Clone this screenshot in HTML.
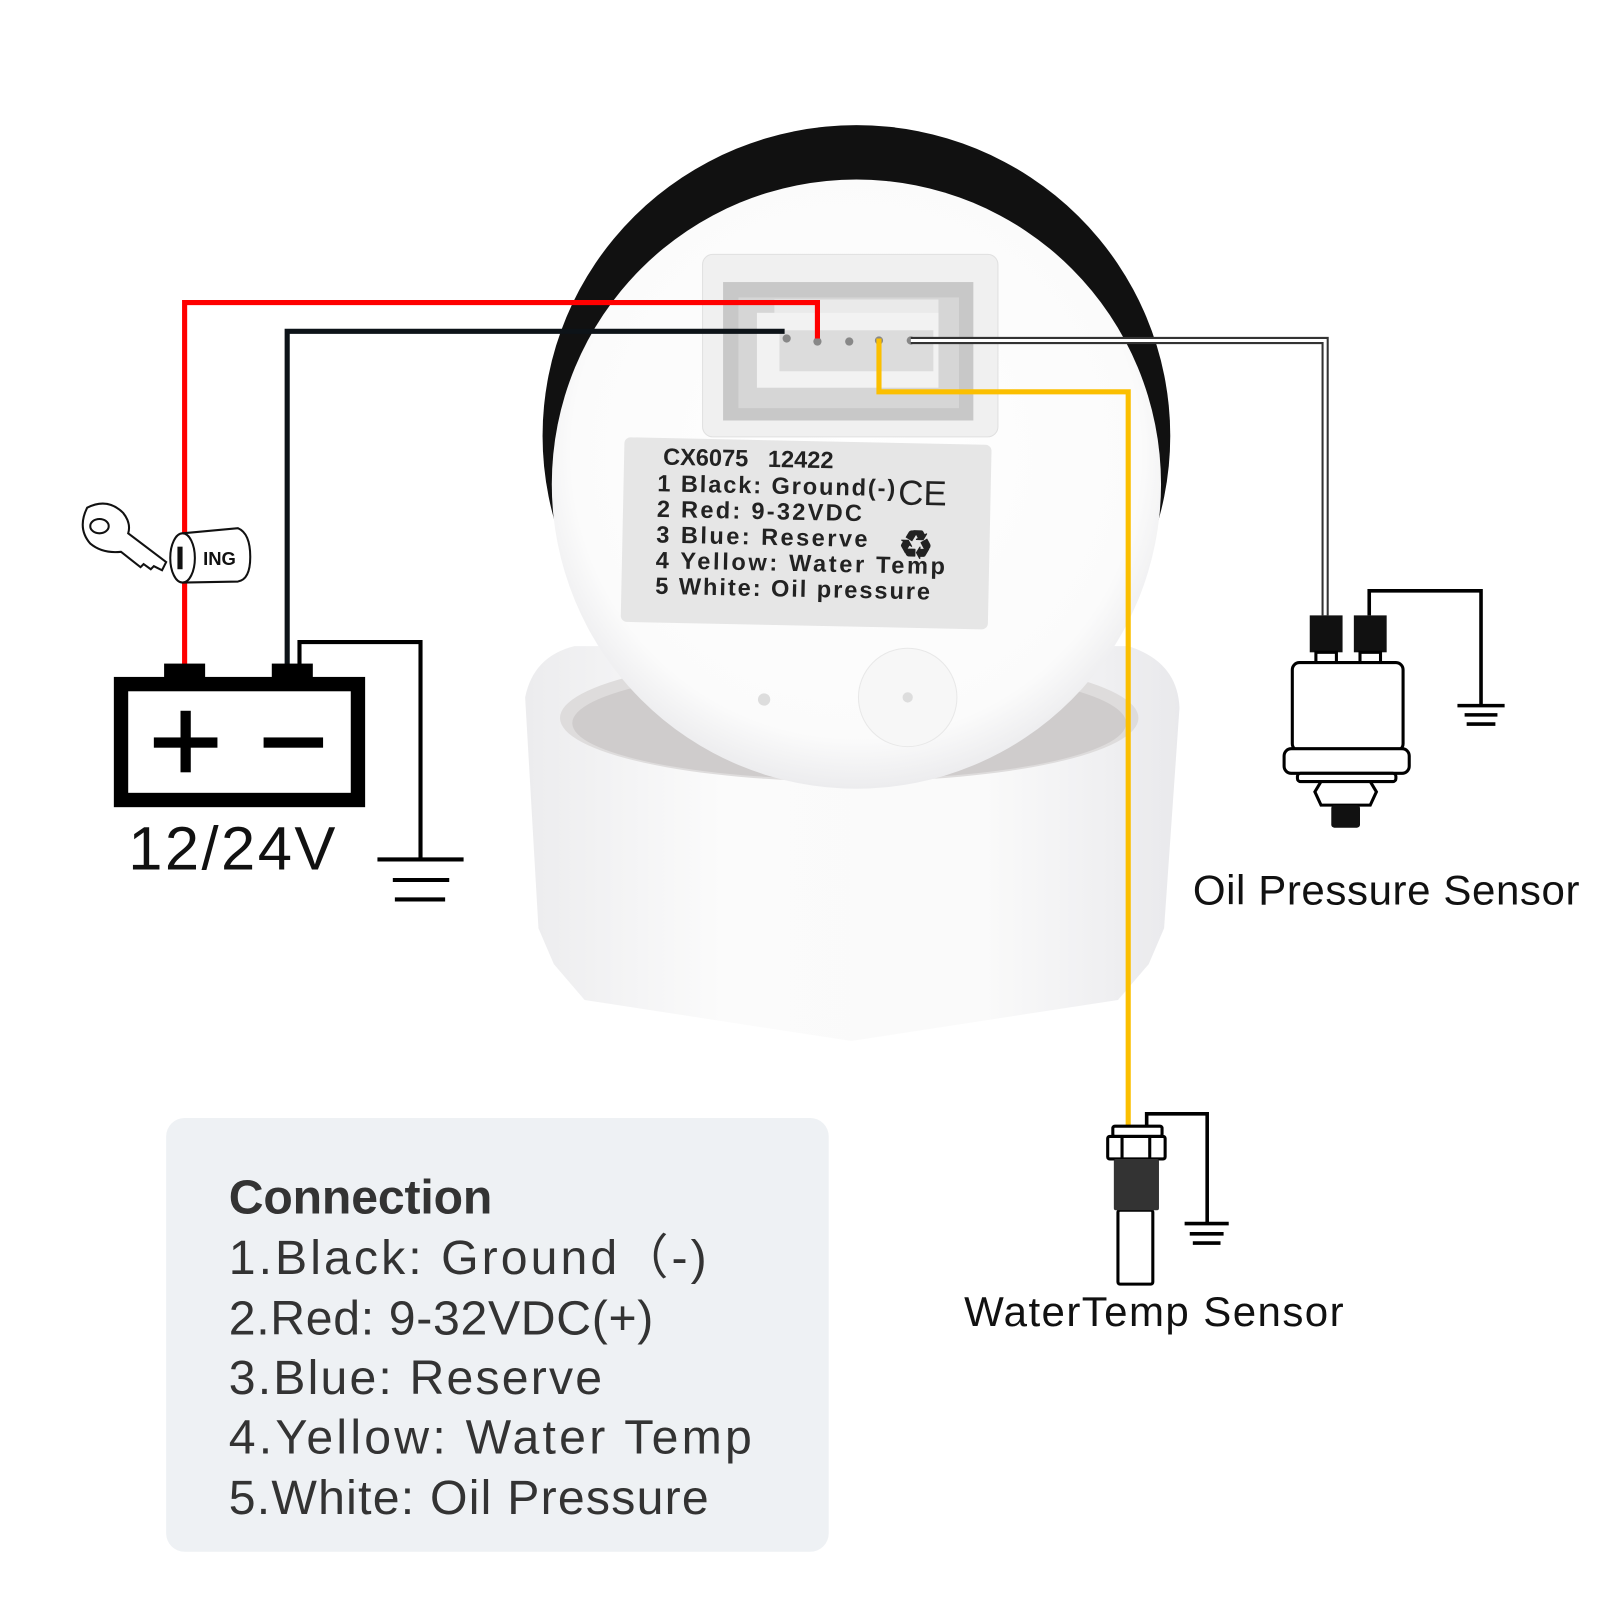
<!DOCTYPE html>
<html><head><meta charset="utf-8"><style>
html,body{margin:0;padding:0;background:#fff;}
svg{display:block;}
</style></head><body>
<svg width="1600" height="1600" viewBox="0 0 1560 1560" xmlns="http://www.w3.org/2000/svg" font-family="Liberation Sans, sans-serif">
<defs>
<linearGradient id="base" x1="0" x2="1" y1="0" y2="0">
<stop offset="0" stop-color="#ececee"/><stop offset="0.3" stop-color="#fbfbfb"/><stop offset="0.7" stop-color="#fafafa"/><stop offset="1" stop-color="#e9e9ec"/>
</linearGradient>
<radialGradient id="face" cx="0.5" cy="0.45" r="0.55">
<stop offset="0" stop-color="#ffffff"/><stop offset="0.85" stop-color="#fbfbfb"/><stop offset="1" stop-color="#ececee"/>
</radialGradient>
</defs>
<!-- base cylinder -->
<path d="M512 680 Q520 640 560 630 L1100 630 Q1148 645 1150 690 L1135 905 L1120 940 L1090 975 L830 1015 L570 975 L540 940 L525 905 Z" fill="url(#base)"/>
<ellipse cx="828" cy="700" rx="282" ry="62" fill="#dedcdc"/>
<ellipse cx="828" cy="705" rx="270" ry="55" fill="#cfcccc"/>
<!-- black ring -->
<ellipse cx="835" cy="425" rx="306" ry="303" fill="#111"/>
<circle cx="835" cy="472" r="297" fill="url(#face)"/>
<!-- connector housing -->
<rect x="685" y="248" width="288" height="178" rx="10" fill="#f0f0f0" stroke="#e0e0e0"/>
<rect x="705" y="275" width="244" height="135" fill="#c8c8c8"/>
<rect x="720" y="290" width="215" height="108" fill="#d6d6d6"/>
<rect x="755" y="292" width="160" height="30" fill="#eaeaea"/>
<rect x="738" y="305" width="177" height="73" fill="#f2f2f2"/>
<rect x="760" y="322" width="150" height="40" fill="#dcdcdc"/>
<g fill="#888"><circle cx="767" cy="330" r="4"/><circle cx="797" cy="333" r="4"/><circle cx="828" cy="333" r="4"/><circle cx="857" cy="332" r="4"/><circle cx="888" cy="332" r="4"/></g>
<!-- label -->
<g transform="rotate(1.2 786 520)">
<rect x="607" y="430" width="358" height="180" rx="6" fill="#e6e6e6"/>
<g font-size="23" fill="#222" font-weight="bold">
<text x="645" y="456">CX6075 &#160;&#160;12422</text>
<text x="640" y="482" textLength="232">1 Black: Ground(-)</text>
<text x="640" y="507" textLength="200">2 Red: 9-32VDC</text>
<text x="640" y="532" textLength="206">3 Blue: Reserve</text>
<text x="640" y="557" textLength="282">4 Yellow: Water Temp</text>
<text x="640" y="582" textLength="268">5 White: Oil pressure</text>
<text x="875" y="490" font-size="34" font-weight="normal">CE</text>
<text x="876" y="542" font-size="38">♻</text>
</g></g>
<circle cx="885" cy="680" r="48" fill="#f7f7f7" stroke="#e8e8e8"/>
<circle cx="885" cy="680" r="5" fill="#ddd"/>
<circle cx="745" cy="682" r="6" fill="#ddd"/>
<!-- wires -->
<polyline points="180,660 180,295 797,295 797,330" fill="none" stroke="#f00" stroke-width="5"/>
<polyline points="280,650 280,323 765,323" fill="none" stroke="#0d1318" stroke-width="5"/>
<polyline points="888,332 1292,332 1292,600" fill="none" stroke="#333" stroke-width="7"/>
<polyline points="888,332 1292,332 1292,600" fill="none" stroke="#fff" stroke-width="3"/>
<polyline points="857,330 857,382 1100,382 1100,1100" fill="none" stroke="#fbbf00" stroke-width="5"/>
<!-- battery -->
<rect x="160" y="647" width="40" height="16" fill="#000"/>
<rect x="265" y="647" width="40" height="16" fill="#000"/>
<rect x="118" y="667" width="231" height="113" fill="none" stroke="#000" stroke-width="14"/>
<rect x="150" y="719" width="62" height="10" fill="#000"/><rect x="176" y="693" width="10" height="60" fill="#000"/>
<rect x="257" y="719" width="58" height="10" fill="#000"/>
<text x="125" y="848" font-size="60" fill="#111" textLength="202">12/24V</text>
<polyline points="292,660 292,626 410,626 410,838" fill="none" stroke="#000" stroke-width="4"/>
<g stroke="#000" stroke-width="4"><line x1="368" y1="838" x2="452" y2="838"/><line x1="383" y1="858" x2="438" y2="858"/><line x1="385" y1="877" x2="434" y2="877"/></g>
<!-- key & ING -->
<g stroke="#111" stroke-width="2" fill="#fff">
<path d="M85 495 Q105 485 120 500 Q128 510 125 520 L162 548 L158 556 L150 552 L147 555 L140 550 L137 553 L118 538 Q100 540 88 530 Q75 515 85 495 Z"/>
<ellipse cx="97" cy="513" rx="9" ry="7"/>
<path d="M178 520 L232 515 Q244 520 244 543 Q244 565 232 567 L178 568"/>
<ellipse cx="178" cy="544" rx="12" ry="24"/>
</g>
<rect x="173" y="533" width="5" height="22" fill="#111"/>
<text x="198" y="551" font-size="18" font-weight="bold" fill="#111">ING</text>
<!-- oil sensor -->
<rect x="1277" y="600" width="32" height="36" fill="#111"/>
<rect x="1320" y="600" width="32" height="36" fill="#111"/>
<g fill="#fff" stroke="#000" stroke-width="3">
<rect x="1283" y="636" width="20" height="10"/><rect x="1326" y="636" width="20" height="10"/>
<rect x="1260" y="646" width="108" height="86" rx="7"/>
<rect x="1252" y="730" width="122" height="24" rx="7"/>
<rect x="1265" y="754" width="96" height="8" rx="3"/>
<path d="M1288 762 L1336 762 L1342 772 L1336 785 L1288 785 L1282 772 Z"/>
</g>
<rect x="1298" y="785" width="28" height="22" rx="3" fill="#111"/>
<polyline points="1335,600 1335,576 1444,576 1444,688" fill="none" stroke="#000" stroke-width="3.5"/>
<g stroke="#000" stroke-width="3.5"><line x1="1421" y1="688" x2="1467" y2="688"/><line x1="1428" y1="697" x2="1460" y2="697"/><line x1="1430" y1="706" x2="1458" y2="706"/></g>
<text x="1163" y="882" font-size="41" fill="#111" textLength="377">Oil Pressure Sensor</text>
<!-- water temp sensor -->
<polyline points="1118,1100 1118,1086 1177,1086 1177,1193" fill="none" stroke="#000" stroke-width="3.5"/>
<g stroke="#000" stroke-width="3.5"><line x1="1155" y1="1193" x2="1198" y2="1193"/><line x1="1160" y1="1203" x2="1193" y2="1203"/><line x1="1163" y1="1212" x2="1190" y2="1212"/></g>
<g fill="#fff" stroke="#000" stroke-width="3">
<rect x="1085" y="1098" width="48" height="10" rx="2"/>
<rect x="1080" y="1108" width="56" height="22" rx="2"/>
<line x1="1094" y1="1108" x2="1094" y2="1130"/><line x1="1121" y1="1108" x2="1121" y2="1130"/>
<rect x="1090" y="1180" width="34" height="72" rx="2"/>
</g>
<rect x="1086" y="1130" width="44" height="50" rx="2" fill="#333"/>
<text x="940" y="1293" font-size="41" fill="#111" textLength="370">WaterTemp Sensor</text>
<!-- legend -->
<rect x="162" y="1090" width="646" height="423" rx="18" fill="#eef1f4"/>
<g font-size="47" fill="#333">
<text x="223" y="1183" font-weight="bold" textLength="257">Connection</text>
<text x="223" y="1242" textLength="466">1.Black:  Ground（-)</text>
<text x="223" y="1301" textLength="414">2.Red: 9-32VDC(+)</text>
<text x="223" y="1359" textLength="364">3.Blue:  Reserve</text>
<text x="223" y="1417" textLength="510">4.Yellow:  Water Temp</text>
<text x="223" y="1476" textLength="468">5.White: Oil Pressure</text>
</g>
</svg>
</body></html>
